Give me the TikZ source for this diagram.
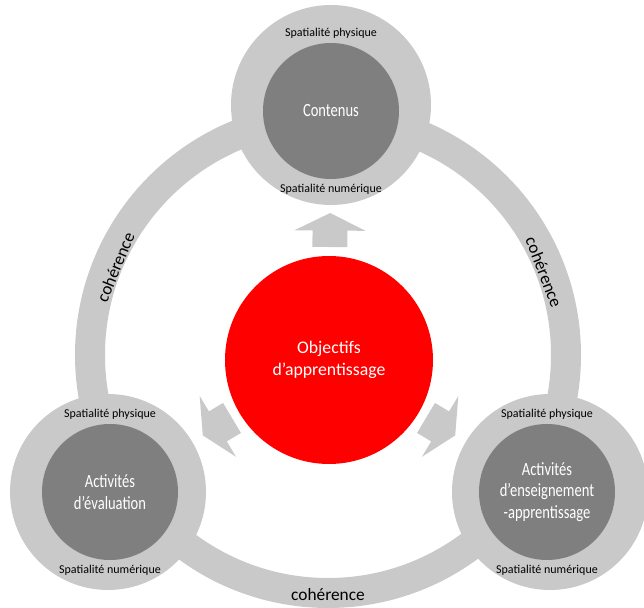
\documentclass[tikz,border=0pt]{standalone}
\usepackage{fontspec}
\setmainfont{Carlito}
\newfontfamily\narrowfont[FakeStretch=0.78]{Carlito}
\usetikzlibrary{positioning,calc}

\definecolor{ringgray}{RGB}{201,201,201}
\definecolor{coregray}{RGB}{127,127,127}
\definecolor{objred}{RGB}{255,0,0}

\begin{document}
\begin{tikzpicture}[
    x=0.75pt, y=0.75pt,
    halo/.style={circle, fill=ringgray, inner sep=0pt, minimum size=147pt},
    core/.style={circle, fill=coregray, inner sep=0pt, minimum size=102pt, text=white, align=center, font=\narrowfont\fontsize{14}{16}\selectfont},
    spat/.style={font=\fontsize{9}{10}\selectfont},
    coh/.style={font=\fontsize{13}{15}\selectfont},
    ring/.style={draw=ringgray, line width=22.5pt}
]
    \useasboundingbox (0,0) rectangle (644,608);

    % Ring
    \coordinate (ringc) at (328,253);
    \draw[ring] (ringc) circle[radius=178.5pt];

    % Outer circles
    \node[halo, minimum size=150pt] (conh) at (331,503) {};
    \node[halo] (evah) at (108,116) {};
    \node[halo] (ensh) at (550,116) {};

    % Inner circles
    \node[core] (con) at (331,497) {Contenus};
    \node[core] (eva) at (110,116) {Activités\\d’évaluation};
    \node[core] (ens) at (547,116) {Activités\\d’enseignement\\-apprentissage};

    % Spatialite labels
    \node[spat, above=0pt of con] (conp) {Spatialité physique};
    \node[spat, below=0pt of con] (conn) {Spatialité numérique};
    \node[spat, above=0pt of eva] (evap) {Spatialité physique};
    \node[spat, below=0pt of eva] (evan) {Spatialité numérique};
    \node[spat, above=0pt of ens] (ensp) {Spatialité physique};
    \node[spat, below=0pt of ens] (ensn) {Spatialité numérique};

    % Objectives
    \node[circle, fill=objred, inner sep=0pt, minimum size=156pt, text=white, align=center,
          font=\fontsize{13.3}{16.5}\selectfont] (obj) at (329,248) {Objectifs\\d’apprentissage};

    % Block arrows
    \foreach \t in {conh,evah,ensh} {
        \coordinate (tl) at ($(obj.center)!84.75pt!(\t.center)$);
        \coordinate (bs) at ($(obj.center)!97.1pt!(\t.center)$);
        \coordinate (tp) at ($(obj.center)!110.25pt!(\t.center)$);
        \fill[ringgray] ($(tl)!13.1pt!90:(tp)$) -- ($(bs)!13.1pt!90:(tp)$) -- ($(bs)!26.6pt!90:(tp)$)
            -- (tp) -- ($(bs)!26.6pt!-90:(tp)$) -- ($(bs)!13.1pt!-90:(tp)$) -- ($(tl)!13.1pt!-90:(tp)$) -- cycle;
    }

    % Ring labels
    \node[coh, rotate=67.5] (coh1) at ([shift={(157.5:172.5pt)}]ringc) {cohérence};
    \node[coh, rotate=-69] (coh2) at ([shift={(21:173.5pt)}]ringc) {cohérence};
    \node[coh] (coh3) at ([shift={(270:180pt)}]ringc) {cohérence};
\end{tikzpicture}
\end{document}
